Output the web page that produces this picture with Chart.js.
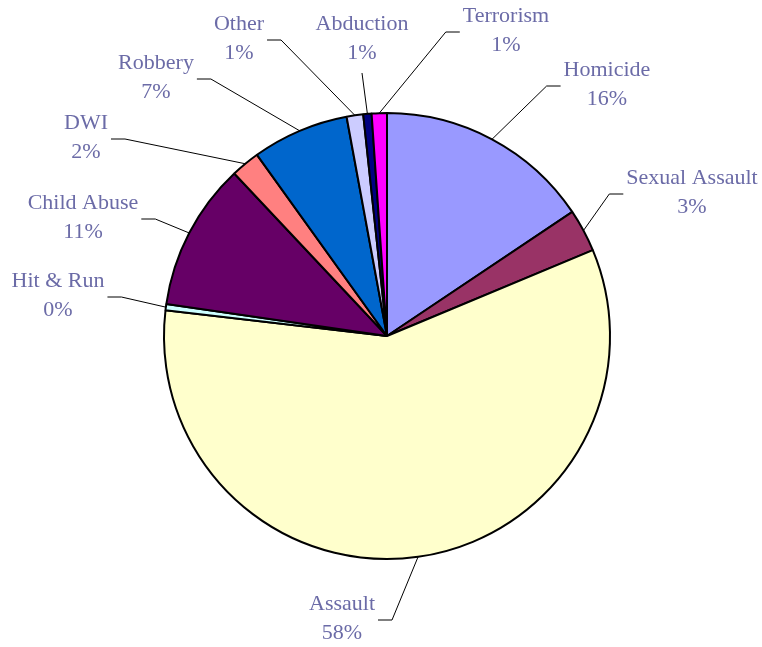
<!DOCTYPE html>
<html>
<head>
<meta charset="utf-8">
<script src="https://cdn.jsdelivr.net/npm/chart.js@4.4.1/dist/chart.umd.min.js"></script>
<style>
  html, body { margin: 0; padding: 0; background: #fff; }
  #wrap { width: 762px; height: 647px; position: relative; }
</style>
</head>
<body>
<div id="wrap"><canvas id="crimeChart"></canvas></div>
<script>
// data, clockwise from 12 o'clock
const categories = ["Homicide", "Sexual Assault", "Assault", "Hit & Run", "Child Abuse",
    "DWI", "Robbery", "Other", "Abduction", "Terrorism"];
const shares = [15.6, 3.1, 58.1, 0.45, 10.7, 2.1, 7.0, 1.2, 0.6, 1.1];
const sliceColors = ["#9999FF", "#993366", "#FFFFCC", "#CCFFFF", "#660066",
    "#FF8080", "#0066CC", "#CCCCFF", "#000080", "#FF00FF"];

// label placement, offset from pie centre (x = text centre, y = leader line height)
const labelOffsets = [
    [220, -250], [305, -142], [-45, 284], [-329, -39], [-304, -117],
    [-301, -197], [-231, -257], [-148, -296], [-25, -296], [119, -304]
];

const textColor = "#6B6BA7";
const labelFont = "22px 'Liberation Serif', 'Times New Roman', serif";

const leaderLabels = {
    id: "leaderLabels",
    afterDraw(chart) {
        const ctx = chart.ctx;
        const meta = chart.getDatasetMeta(0);
        const total = shares.reduce((a, b) => a + b, 0);

        ctx.save();
        ctx.font = labelFont;
        ctx.textAlign = "center";
        ctx.textBaseline = "alphabetic";

        meta.data.forEach((arc, i) => {
            const mid = (arc.startAngle + arc.endAngle) / 2;
            const ax = arc.x + arc.outerRadius * Math.cos(mid);
            const ay = arc.y + arc.outerRadius * Math.sin(mid);

            const lx = arc.x + labelOffsets[i][0];
            const ly = arc.y + labelOffsets[i][1];

            const name = categories[i];
            const pct = Math.round(shares[i] / total * 100) + "%";
            const hw = ctx.measureText(name).width / 2;

            // leader line
            ctx.strokeStyle = "#000";
            ctx.lineWidth = 1;
            ctx.beginPath();
            if (Math.abs(ax - lx) < hw) {
                ctx.moveTo(lx, ly + 33);
                ctx.lineTo(ax, ay);
            } else if (ax > lx) {
                ctx.moveTo(lx + hw + 3, ly);
                ctx.lineTo(lx + hw + 17, ly);
                ctx.lineTo(ax, ay);
            } else {
                ctx.moveTo(lx - hw - 3, ly);
                ctx.lineTo(lx - hw - 17, ly);
                ctx.lineTo(ax, ay);
            }
            ctx.stroke();

            ctx.fillStyle = textColor;
            ctx.fillText(name, lx, ly - 10);
            ctx.fillText(pct, lx, ly + 19);
        });

        ctx.restore();
    }
};

const ctx = document.getElementById("crimeChart");

new Chart(ctx, {
    type: "pie",
    data: {
        labels: categories,
        datasets: [{
            data: shares,
            backgroundColor: sliceColors,
            borderColor: "#000",
            borderWidth: 2
        }]
    },
    options: {
        responsive: true,
        maintainAspectRatio: false,
        animation: false,
        radius: 223,
        layout: {
            padding: { top: 112, bottom: 87, left: 163, right: 151 }
        },
        plugins: {
            legend: { display: false },
            tooltip: { enabled: false }
        }
    },
    plugins: [leaderLabels]
});
</script>
</body>
</html>
